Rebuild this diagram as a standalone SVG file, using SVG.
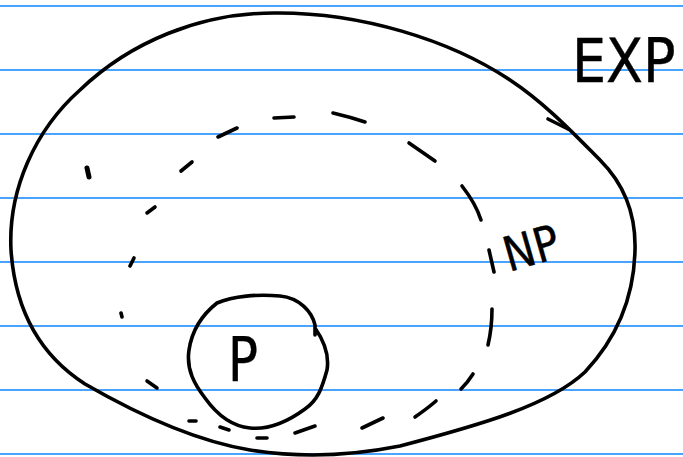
<svg xmlns="http://www.w3.org/2000/svg" width="683" height="457" viewBox="0 0 683 457">
<style>
.rule{stroke:#4aa3ff;stroke-width:2;fill:none}
.ink{stroke:#000;stroke-width:3.6;fill:none;stroke-linecap:round;stroke-linejoin:round}
.lbl{font-family:"DejaVu Sans Condensed","DejaVu Sans","Liberation Sans",sans-serif;fill:#000;stroke:#000;stroke-width:0.4}
</style>
<rect width="683" height="457" fill="#fff"/>
<g id="paper">
<line class="rule" x1="0" y1="6" x2="683" y2="6"/>
<line class="rule" x1="0" y1="70" x2="683" y2="70"/>
<line class="rule" x1="0" y1="134" x2="683" y2="134"/>
<line class="rule" x1="0" y1="198" x2="683" y2="198"/>
<line class="rule" x1="0" y1="262" x2="683" y2="262"/>
<line class="rule" x1="0" y1="326" x2="683" y2="326"/>
<line class="rule" x1="0" y1="390" x2="683" y2="390"/>
<line class="rule" x1="0" y1="454" x2="683" y2="454"/>
</g>
<g id="exp">
<path class="ink" d="M274,13 C360,12 450,40 510,80 C545,103 575,135 600,160 C625,185 636,215 635,250 C634,300 615,340 585,372 C550,405 480,425 400,446 C350,456 300,458 250,450 C190,440 130,410 85,384 C40,355 15,310 11,250 C8,190 35,130 80,90 C130,42 200,13 274,13 Z"/>
<path class="ink" d="M548,119 L568,129"/>
<text class="lbl" x="572" y="82" font-size="60">EXP</text>
</g>
<g id="np">
<g class="ink">
<path d="M181,171 L192,162"/>
<path d="M147,213 L155,207"/>
<path d="M130,266 L134,258"/>
<path d="M121,313 L122,317"/>
<path d="M147,381 L157,388"/>
<path d="M189,421 L196,421"/>
<path d="M220,427 L229,430"/>
<path d="M257,438 L267,438"/>
<path d="M295,433 L315,426"/>
<path d="M362,428 L383,418"/>
<path d="M415,417 Q428,408 436,401"/>
<path d="M461,389 Q468,382 473,374"/>
<path d="M488,345 Q492,328 492,309"/>
<path d="M489,250 L494,272"/>
<path d="M462,186 Q476,204 481,220"/>
<path d="M409,143 L435,161"/>
<path d="M333,113 Q350,117 365,122"/>
<path d="M274,118 L294,117"/>
<path d="M218,137 L237,128"/>
</g>
<text class="lbl" x="0" y="0" font-size="48" textLength="56" lengthAdjust="spacingAndGlyphs" transform="translate(509,272) rotate(-16)">NP</text>
</g>
<g id="dot">
<path d="M87,168 L89,177" stroke="#000" stroke-width="5" stroke-linecap="round" fill="none"/>
</g>
<g id="p">
<path class="ink" d="M315,335 L315,325 C312,312 300,298 280,296 C258,294 233,296 217,303 C203,314 192,330 189,350 C186,370 195,385 205,398 C215,412 230,426 250,428 C270,430 290,420 305,409 C318,400 322,388 327,370 C330,352 322,338 315,328"/>
<text class="lbl" x="228" y="381" font-size="60" textLength="30" lengthAdjust="spacingAndGlyphs">P</text>
</g>
</svg>
